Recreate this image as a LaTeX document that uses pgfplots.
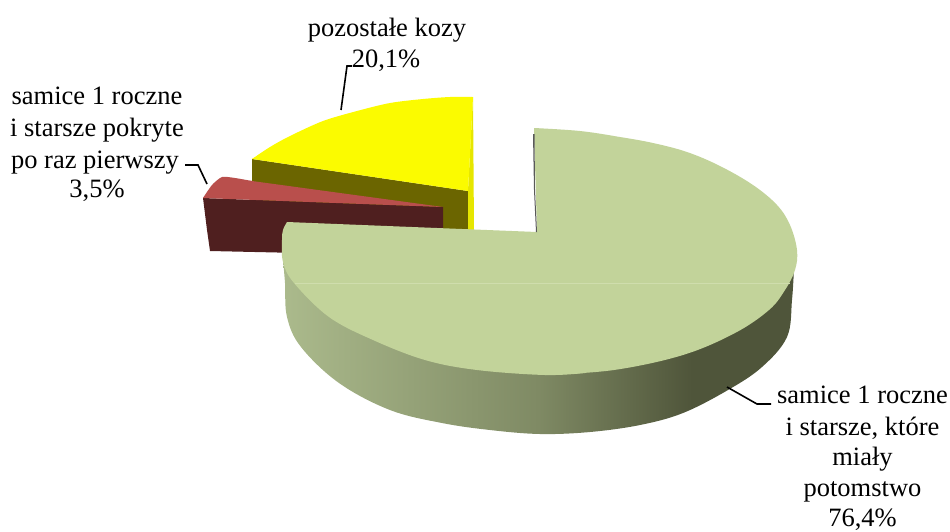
\documentclass[border=0pt]{standalone}
\usepackage{fontspec}
\setmainfont{Liberation Serif}
\usepackage{pgfplots}
\pgfplotsset{compat=1.18}
\definecolor{gtop}{HTML}{C2D39A}
\definecolor{gline}{HTML}{CFDDAD}
\definecolor{yt}{HTML}{FBFB00}
\definecolor{ys}{HTML}{6B6500}
\definecolor{ysl}{HTML}{E6E600}
\definecolor{rt}{HTML}{B94F4C}
\definecolor{rs}{HTML}{4F1F1F}
\definecolor{gA}{HTML}{ABBA8C}
\definecolor{gB}{HTML}{7F8A64}
\definecolor{gC}{HTML}{4F553A}
\pgfdeclarehorizontalshading{sideshade}{100bp}{color(0bp)=(gA);color(25bp)=(gA);color(50bp)=(gB);color(65bp)=(gC);color(100bp)=(gC)}
\newcommand{\lab}[3]{\node[inner sep=0pt,anchor=base] at (axis cs:#1,#2) {\fontsize{26.5}{30}\selectfont #3};}
\begin{document}
\begin{tikzpicture}
\begin{axis}[hide axis,scale only axis,width=950pt,height=531pt,xmin=0,xmax=950,ymin=0,ymax=531,y dir=reverse,clip=false]
% yellow wedge
\addplot[draw=none,fill=ys] coordinates {(252,159)(468,191)(468,234)(252,234)};
\addplot[draw=none,fill=ysl] coordinates {(473,97)(474,232)(468,232)(468,191)};
\addplot[draw=none,fill=yt,smooth,tension=0.5] coordinates {(473,97)(450,97)(423,99)(390,103)(357,111)(323,121)(290,136)(270,147)(252,159)};
\addplot[draw=none,fill=yt] coordinates {(473,97)(390,106)(323,124)(252,159)(468,191)};
% red wedge
\addplot[draw=none,fill=rs] coordinates {(203,198)(443,207)(443,232)(300,253)(210,251)(207,230)};
\addplot[draw=none,fill=rt,smooth,tension=0.4] coordinates {(203,198)(212,185)(222,177)(235,178)(252,181)};
\addplot[draw=none,fill=rt] coordinates {(203,198)(222,180)(252,181)(443,207)};
% green side
\addplot[draw=none,shading=sideshade,smooth,tension=0.6] coordinates {(283,260)(285,283)(287,317)(301,347)(339,383)(390,410)(442,423)(490,430)(540,434)(590,432)(640,425)(683,413)(728,390)(762,367)(787,337)(792,300)(794,268)};
% green top
\addplot[draw=none,fill=gtop,smooth,tension=0.6] coordinates {(534,128)(580,131)(620,137)(653,143)(687,152)(720,166)(753,185)(777,205)(790,225)(797,250)(795,270)(785,290)(769,310)(735,333)(683,355)(614,370)(545,375)};
\addplot[draw=none,fill=gtop,smooth,tension=0.6] coordinates {(585,373)(545,375)(477,370)(425,360)(373,340)(329,317)(294,283)(283,262)(282,240)(283,230)(287,222)};
\addplot[draw=none,fill=gtop] coordinates {(534,128)(537,232)(287,222)(290,262)(329,312)(425,355)(545,372)(683,350)(785,285)(790,230)(720,170)(620,140)};
\addplot[gline,line width=0.8pt] coordinates {(295,283)(790,283)};
\addplot[draw=none,fill=black!65] coordinates {(533,134)(534,190)(536,232)(537,232)(535,190)(534.5,134)};
% leader lines
\addplot[black,line width=1.6pt] coordinates {(341,110)(347,66)(352,66)};
\addplot[black,line width=1.6pt] coordinates {(207,184)(198,165)(185,165)};
\addplot[black,line width=1.6pt] coordinates {(727,387)(757,404)(771,404)};
% labels
\lab{387}{36}{pozostałe kozy}
\lab{386}{67}{20,1\%}
\lab{97}{104}{samice 1 roczne}
\lab{97}{136}{i starsze pokryte}
\lab{95}{168}{po raz pierwszy}
\lab{97}{197}{3,5\%}
\lab{862.5}{403}{samice 1 roczne}
\lab{862.5}{435}{i starsze, które}
\lab{862.5}{465}{miały}
\lab{862.5}{496}{potomstwo}
\lab{862.5}{526}{76,4\%}
\end{axis}
\pgfresetboundingbox
\path (0,0) rectangle (950pt,531pt);
\end{tikzpicture}
\end{document}
